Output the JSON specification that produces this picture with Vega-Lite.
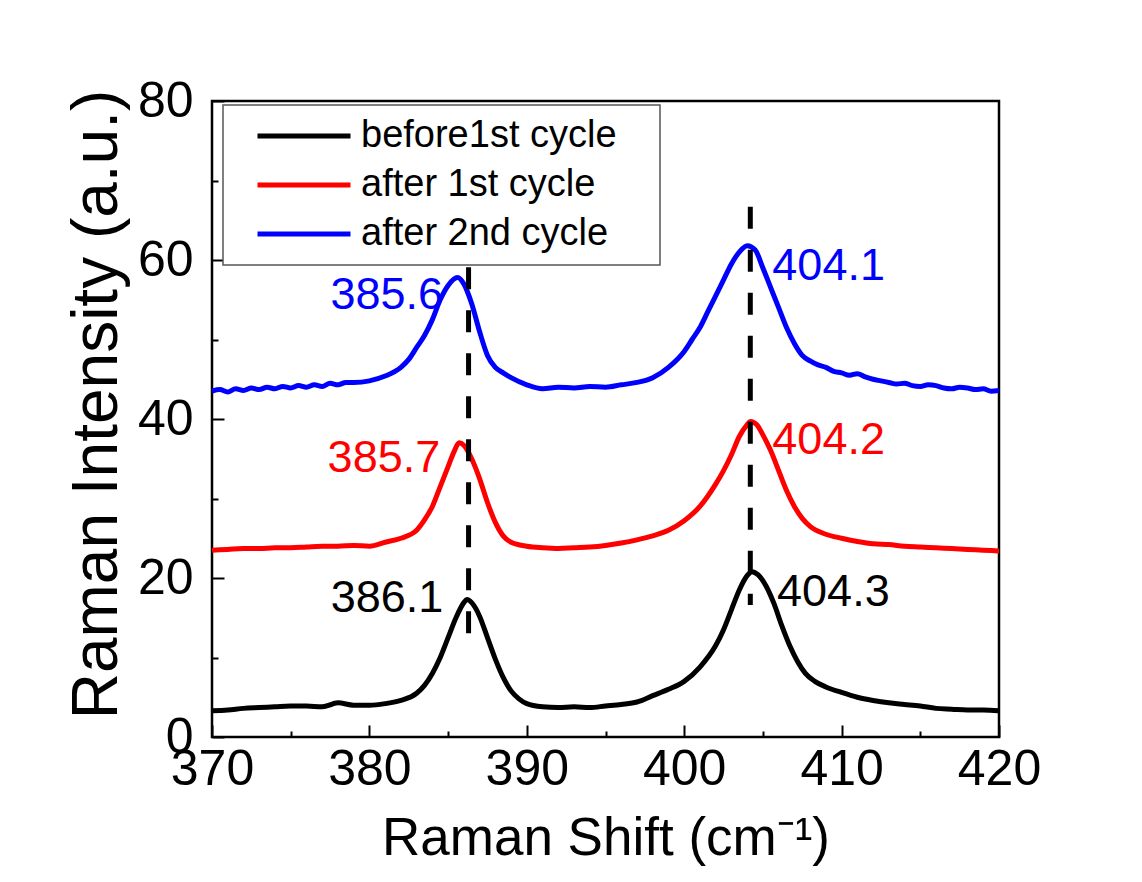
{
  "$schema": "https://vega.github.io/schema/vega-lite/v6.json",
  "width": 787,
  "height": 636,
  "autosize": {"type": "none"},
  "padding": {"left": 212, "top": 101, "right": 143, "bottom": 145},
  "background": "white",
  "config": {
    "font": "Liberation Sans",
    "view": {"stroke": "black", "strokeWidth": 2.5},
    "axis": {"domain": false, "grid": false, "tickColor": "black", "tickWidth": 2, "labelColor": "black", "titleColor": "black", "labelFont": "Liberation Sans", "titleFont": "Liberation Sans", "labelFontSize": 50, "titleFontSize": 53, "titleFontWeight": "normal"}
  },
  "datasets": {
    "spectra": [
      {"s":"before1st cycle","x":370,"y":3.3},{"s":"before1st cycle","x":371,"y":3.4},{"s":"before1st cycle","x":372,"y":3.6},{"s":"before1st cycle","x":373,"y":3.7},{"s":"before1st cycle","x":374,"y":3.8},{"s":"before1st cycle","x":375,"y":3.9},{"s":"before1st cycle","x":376,"y":3.9},{"s":"before1st cycle","x":377,"y":3.8},{"s":"before1st cycle","x":378,"y":4.3},{"s":"before1st cycle","x":379,"y":4.0},{"s":"before1st cycle","x":380,"y":4.0},{"s":"before1st cycle","x":381,"y":4.2},{"s":"before1st cycle","x":382,"y":4.6},{"s":"before1st cycle","x":383,"y":5.5},{"s":"before1st cycle","x":383.5,"y":6.5},{"s":"before1st cycle","x":384,"y":8.0},{"s":"before1st cycle","x":384.5,"y":10.0},{"s":"before1st cycle","x":385,"y":12.5},{"s":"before1st cycle","x":385.5,"y":15.0},{"s":"before1st cycle","x":386,"y":16.9},{"s":"before1st cycle","x":386.2,"y":17.3},{"s":"before1st cycle","x":386.5,"y":16.9},{"s":"before1st cycle","x":387,"y":15.2},{"s":"before1st cycle","x":387.5,"y":12.5},{"s":"before1st cycle","x":388,"y":9.8},{"s":"before1st cycle","x":388.5,"y":7.5},{"s":"before1st cycle","x":389,"y":5.8},{"s":"before1st cycle","x":389.5,"y":4.8},{"s":"before1st cycle","x":390,"y":4.2},{"s":"before1st cycle","x":391,"y":3.8},{"s":"before1st cycle","x":392,"y":3.7},{"s":"before1st cycle","x":393,"y":3.8},{"s":"before1st cycle","x":394,"y":3.7},{"s":"before1st cycle","x":395,"y":3.9},{"s":"before1st cycle","x":396,"y":4.1},{"s":"before1st cycle","x":397,"y":4.4},{"s":"before1st cycle","x":398,"y":5.2},{"s":"before1st cycle","x":399,"y":6.0},{"s":"before1st cycle","x":400,"y":7.0},{"s":"before1st cycle","x":401,"y":8.8},{"s":"before1st cycle","x":402,"y":11.5},{"s":"before1st cycle","x":402.5,"y":13.5},{"s":"before1st cycle","x":403,"y":16.0},{"s":"before1st cycle","x":403.5,"y":18.5},{"s":"before1st cycle","x":404,"y":20.3},{"s":"before1st cycle","x":404.3,"y":20.8},{"s":"before1st cycle","x":404.7,"y":20.4},{"s":"before1st cycle","x":405.2,"y":19.0},{"s":"before1st cycle","x":405.7,"y":16.8},{"s":"before1st cycle","x":406.2,"y":14.0},{"s":"before1st cycle","x":406.7,"y":11.5},{"s":"before1st cycle","x":407.2,"y":9.5},{"s":"before1st cycle","x":407.7,"y":8.0},{"s":"before1st cycle","x":408.3,"y":7.0},{"s":"before1st cycle","x":409,"y":6.3},{"s":"before1st cycle","x":410,"y":5.6},{"s":"before1st cycle","x":411,"y":5.0},{"s":"before1st cycle","x":412,"y":4.6},{"s":"before1st cycle","x":413,"y":4.3},{"s":"before1st cycle","x":414,"y":4.1},{"s":"before1st cycle","x":415,"y":3.9},{"s":"before1st cycle","x":416,"y":3.6},{"s":"before1st cycle","x":417,"y":3.5},{"s":"before1st cycle","x":418,"y":3.4},{"s":"before1st cycle","x":419,"y":3.4},{"s":"before1st cycle","x":420,"y":3.3},
      {"s":"after 1st cycle","x":370,"y":23.5},{"s":"after 1st cycle","x":371,"y":23.6},{"s":"after 1st cycle","x":372,"y":23.7},{"s":"after 1st cycle","x":373,"y":23.7},{"s":"after 1st cycle","x":374,"y":23.8},{"s":"after 1st cycle","x":375,"y":23.8},{"s":"after 1st cycle","x":376,"y":23.9},{"s":"after 1st cycle","x":377,"y":24.0},{"s":"after 1st cycle","x":378,"y":24.0},{"s":"after 1st cycle","x":379,"y":24.1},{"s":"after 1st cycle","x":380,"y":24.0},{"s":"after 1st cycle","x":381,"y":24.5},{"s":"after 1st cycle","x":382,"y":25.0},{"s":"after 1st cycle","x":383,"y":26.0},{"s":"after 1st cycle","x":383.5,"y":27.3},{"s":"after 1st cycle","x":384,"y":29.0},{"s":"after 1st cycle","x":384.5,"y":31.5},{"s":"after 1st cycle","x":385,"y":34.0},{"s":"after 1st cycle","x":385.4,"y":36.0},{"s":"after 1st cycle","x":385.7,"y":37.0},{"s":"after 1st cycle","x":386,"y":36.7},{"s":"after 1st cycle","x":386.5,"y":35.0},{"s":"after 1st cycle","x":387,"y":32.5},{"s":"after 1st cycle","x":387.5,"y":29.5},{"s":"after 1st cycle","x":388,"y":27.0},{"s":"after 1st cycle","x":388.5,"y":25.3},{"s":"after 1st cycle","x":389,"y":24.5},{"s":"after 1st cycle","x":390,"y":24.0},{"s":"after 1st cycle","x":391,"y":23.8},{"s":"after 1st cycle","x":392,"y":23.7},{"s":"after 1st cycle","x":393,"y":23.8},{"s":"after 1st cycle","x":394,"y":23.9},{"s":"after 1st cycle","x":395,"y":24.1},{"s":"after 1st cycle","x":396,"y":24.4},{"s":"after 1st cycle","x":397,"y":24.8},{"s":"after 1st cycle","x":398,"y":25.3},{"s":"after 1st cycle","x":399,"y":26.0},{"s":"after 1st cycle","x":400,"y":27.2},{"s":"after 1st cycle","x":401,"y":29.0},{"s":"after 1st cycle","x":402,"y":31.8},{"s":"after 1st cycle","x":402.5,"y":33.5},{"s":"after 1st cycle","x":403,"y":35.5},{"s":"after 1st cycle","x":403.5,"y":37.8},{"s":"after 1st cycle","x":404,"y":39.3},{"s":"after 1st cycle","x":404.2,"y":39.7},{"s":"after 1st cycle","x":404.6,"y":39.3},{"s":"after 1st cycle","x":405,"y":38.0},{"s":"after 1st cycle","x":405.5,"y":36.0},{"s":"after 1st cycle","x":406,"y":33.5},{"s":"after 1st cycle","x":406.5,"y":31.0},{"s":"after 1st cycle","x":407,"y":29.0},{"s":"after 1st cycle","x":407.5,"y":27.5},{"s":"after 1st cycle","x":408,"y":26.5},{"s":"after 1st cycle","x":409,"y":25.5},{"s":"after 1st cycle","x":410,"y":25.0},{"s":"after 1st cycle","x":411,"y":24.6},{"s":"after 1st cycle","x":412,"y":24.3},{"s":"after 1st cycle","x":413,"y":24.2},{"s":"after 1st cycle","x":414,"y":24.0},{"s":"after 1st cycle","x":415,"y":23.9},{"s":"after 1st cycle","x":416,"y":23.8},{"s":"after 1st cycle","x":417,"y":23.7},{"s":"after 1st cycle","x":418,"y":23.6},{"s":"after 1st cycle","x":419,"y":23.5},{"s":"after 1st cycle","x":420,"y":23.4},
      {"s":"after 2nd cycle","x":370,"y":43.5},{"s":"after 2nd cycle","x":370.5,"y":43.7},{"s":"after 2nd cycle","x":371,"y":43.4},{"s":"after 2nd cycle","x":371.5,"y":43.8},{"s":"after 2nd cycle","x":372,"y":43.6},{"s":"after 2nd cycle","x":372.5,"y":43.9},{"s":"after 2nd cycle","x":373,"y":43.7},{"s":"after 2nd cycle","x":373.5,"y":44.0},{"s":"after 2nd cycle","x":374,"y":43.8},{"s":"after 2nd cycle","x":374.5,"y":44.1},{"s":"after 2nd cycle","x":375,"y":43.9},{"s":"after 2nd cycle","x":375.5,"y":44.2},{"s":"after 2nd cycle","x":376,"y":44.0},{"s":"after 2nd cycle","x":376.5,"y":44.3},{"s":"after 2nd cycle","x":377,"y":44.1},{"s":"after 2nd cycle","x":377.5,"y":44.5},{"s":"after 2nd cycle","x":378,"y":44.3},{"s":"after 2nd cycle","x":378.5,"y":44.6},{"s":"after 2nd cycle","x":379,"y":44.6},{"s":"after 2nd cycle","x":380,"y":44.8},{"s":"after 2nd cycle","x":381,"y":45.4},{"s":"after 2nd cycle","x":382,"y":46.5},{"s":"after 2nd cycle","x":382.5,"y":47.5},{"s":"after 2nd cycle","x":383,"y":49.0},{"s":"after 2nd cycle","x":383.5,"y":50.5},{"s":"after 2nd cycle","x":384,"y":52.5},{"s":"after 2nd cycle","x":384.5,"y":55.0},{"s":"after 2nd cycle","x":385,"y":56.8},{"s":"after 2nd cycle","x":385.6,"y":57.8},{"s":"after 2nd cycle","x":386,"y":57.0},{"s":"after 2nd cycle","x":386.5,"y":54.5},{"s":"after 2nd cycle","x":387,"y":51.0},{"s":"after 2nd cycle","x":387.5,"y":48.0},{"s":"after 2nd cycle","x":388,"y":46.5},{"s":"after 2nd cycle","x":388.5,"y":45.8},{"s":"after 2nd cycle","x":389,"y":45.2},{"s":"after 2nd cycle","x":390,"y":44.3},{"s":"after 2nd cycle","x":391,"y":43.8},{"s":"after 2nd cycle","x":392,"y":44.0},{"s":"after 2nd cycle","x":393,"y":43.9},{"s":"after 2nd cycle","x":394,"y":44.1},{"s":"after 2nd cycle","x":395,"y":44.0},{"s":"after 2nd cycle","x":396,"y":44.3},{"s":"after 2nd cycle","x":397,"y":44.6},{"s":"after 2nd cycle","x":398,"y":45.2},{"s":"after 2nd cycle","x":399,"y":46.5},{"s":"after 2nd cycle","x":400,"y":48.5},{"s":"after 2nd cycle","x":400.5,"y":50.0},{"s":"after 2nd cycle","x":401,"y":51.5},{"s":"after 2nd cycle","x":401.5,"y":53.5},{"s":"after 2nd cycle","x":402,"y":55.5},{"s":"after 2nd cycle","x":402.5,"y":57.5},{"s":"after 2nd cycle","x":403,"y":59.5},{"s":"after 2nd cycle","x":403.5,"y":61.0},{"s":"after 2nd cycle","x":404,"y":61.8},{"s":"after 2nd cycle","x":404.5,"y":61.3},{"s":"after 2nd cycle","x":405,"y":59.0},{"s":"after 2nd cycle","x":405.5,"y":56.5},{"s":"after 2nd cycle","x":406,"y":54.0},{"s":"after 2nd cycle","x":406.5,"y":51.5},{"s":"after 2nd cycle","x":407,"y":49.5},{"s":"after 2nd cycle","x":407.5,"y":48.0},{"s":"after 2nd cycle","x":408,"y":47.3},{"s":"after 2nd cycle","x":408.5,"y":46.8},{"s":"after 2nd cycle","x":409,"y":46.5},{"s":"after 2nd cycle","x":409.5,"y":46.0},{"s":"after 2nd cycle","x":410,"y":45.8},{"s":"after 2nd cycle","x":410.5,"y":45.5},{"s":"after 2nd cycle","x":411,"y":45.7},{"s":"after 2nd cycle","x":411.5,"y":45.3},{"s":"after 2nd cycle","x":412,"y":45.0},{"s":"after 2nd cycle","x":412.5,"y":44.8},{"s":"after 2nd cycle","x":413,"y":44.6},{"s":"after 2nd cycle","x":413.5,"y":44.4},{"s":"after 2nd cycle","x":414,"y":44.5},{"s":"after 2nd cycle","x":414.5,"y":44.2},{"s":"after 2nd cycle","x":415,"y":44.1},{"s":"after 2nd cycle","x":415.5,"y":44.3},{"s":"after 2nd cycle","x":416,"y":44.2},{"s":"after 2nd cycle","x":416.5,"y":43.9},{"s":"after 2nd cycle","x":417,"y":43.8},{"s":"after 2nd cycle","x":417.5,"y":44.0},{"s":"after 2nd cycle","x":418,"y":43.9},{"s":"after 2nd cycle","x":418.5,"y":43.7},{"s":"after 2nd cycle","x":419,"y":43.8},{"s":"after 2nd cycle","x":419.5,"y":43.5},{"s":"after 2nd cycle","x":420,"y":43.6}
    ],
    "peaks": [
      {"x":386.3,"y":59.1,"y2":12.2},
      {"x":404.2,"y":66.7,"y2":16.6}
    ],
    "labels": [
      {"s":"after 2nd cycle","side":"left","x":384.68,"y":55.6,"t":"385.6"},
      {"s":"after 1st cycle","side":"left","x":384.5,"y":35.1,"t":"385.7"},
      {"s":"before1st cycle","side":"left","x":384.7,"y":17.5,"t":"386.1"},
      {"s":"after 2nd cycle","side":"right","x":405.6,"y":59.2,"t":"404.1"},
      {"s":"after 1st cycle","side":"right","x":405.6,"y":37.4,"t":"404.2"},
      {"s":"before1st cycle","side":"right","x":405.9,"y":18.2,"t":"404.3"}
    ]
  },
  "layer": [
    {
      "data": {"name": "spectra"},
      "mark": {"type": "line", "strokeWidth": 5, "interpolate": "monotone", "clip": true},
      "encoding": {
        "x": {"field": "x", "type": "quantitative",
              "scale": {"domain": [370, 420], "nice": false, "zero": false},
              "title": "Raman Shift (cm⁻¹)",
              "axis": {"values": [370,375,380,385,390,395,400,405,410,415,420],
                       "labelExpr": "datum.value % 10 === 0 ? datum.label : ''",
                       "tickSize": {"condition": {"test": "datum.value % 10 === 0", "value": -12}, "value": -6},
                       "labelPadding": 19, "titlePadding": 12, "labelFlush": false, "labelOverlap": false}},
        "y": {"field": "y", "type": "quantitative",
              "scale": {"domain": [0, 80], "nice": false},
              "title": "Raman Intensity (a.u.)",
              "axis": {"values": [0,10,20,30,40,50,60,70,80],
                       "labelExpr": "datum.value % 20 === 0 ? datum.label : ''",
                       "tickSize": {"condition": {"test": "datum.value % 20 === 0", "value": -12}, "value": -6},
                       "labelPadding": 31, "titlePadding": 8, "titleFontSize": 64, "titleY": 303, "labelFlush": false, "labelOverlap": false}},
        "color": {"field": "s", "type": "nominal",
                  "scale": {"domain": ["before1st cycle", "after 1st cycle", "after 2nd cycle"], "range": ["#000000", "#ff0000", "#0000ff"]},
                  "sort": null,
                  "legend": {"title": " ", "titleOrient": "right", "titlePadding": 31, "titleFontSize": 20, "orient": "none", "legendX": 11, "legendY": 4,
                             "symbolType": "M-3,0H3", "symbolSize": 961, "symbolStrokeWidth": 5, "symbolFillColor": "transparent",
                             "labelFontSize": 38, "labelFont": "Liberation Sans", "labelColor": "black",
                             "fillColor": "white", "strokeColor": "#555555",
                             "padding": 12, "rowPadding": 11, "symbolOffset": 50, "labelOffset": 38, "labelLimit": 500,
                             "encode": {"legend": {"update": {"strokeWidth": {"value": 1.5}}}}}}
      }
    },
    {
      "data": {"name": "peaks"},
      "mark": {"type": "rule", "color": "black", "strokeWidth": 5, "strokeDash": [22, 21]},
      "encoding": {
        "x": {"field": "x", "type": "quantitative"},
        "y": {"field": "y", "type": "quantitative"},
        "y2": {"field": "y2"}
      }
    },
    {
      "data": {"name": "labels"},
      "transform": [{"filter": "datum.side === 'left'"}],
      "mark": {"type": "text", "align": "right", "baseline": "middle", "fontSize": 45, "font": "Liberation Sans"},
      "encoding": {
        "x": {"field": "x", "type": "quantitative"},
        "y": {"field": "y", "type": "quantitative"},
        "text": {"field": "t"},
        "color": {"field": "s", "type": "nominal", "legend": null}
      }
    },
    {
      "data": {"name": "labels"},
      "transform": [{"filter": "datum.side === 'right'"}],
      "mark": {"type": "text", "align": "left", "baseline": "middle", "fontSize": 45, "font": "Liberation Sans"},
      "encoding": {
        "x": {"field": "x", "type": "quantitative"},
        "y": {"field": "y", "type": "quantitative"},
        "text": {"field": "t"},
        "color": {"field": "s", "type": "nominal", "legend": null}
      }
    }
  ]
}
